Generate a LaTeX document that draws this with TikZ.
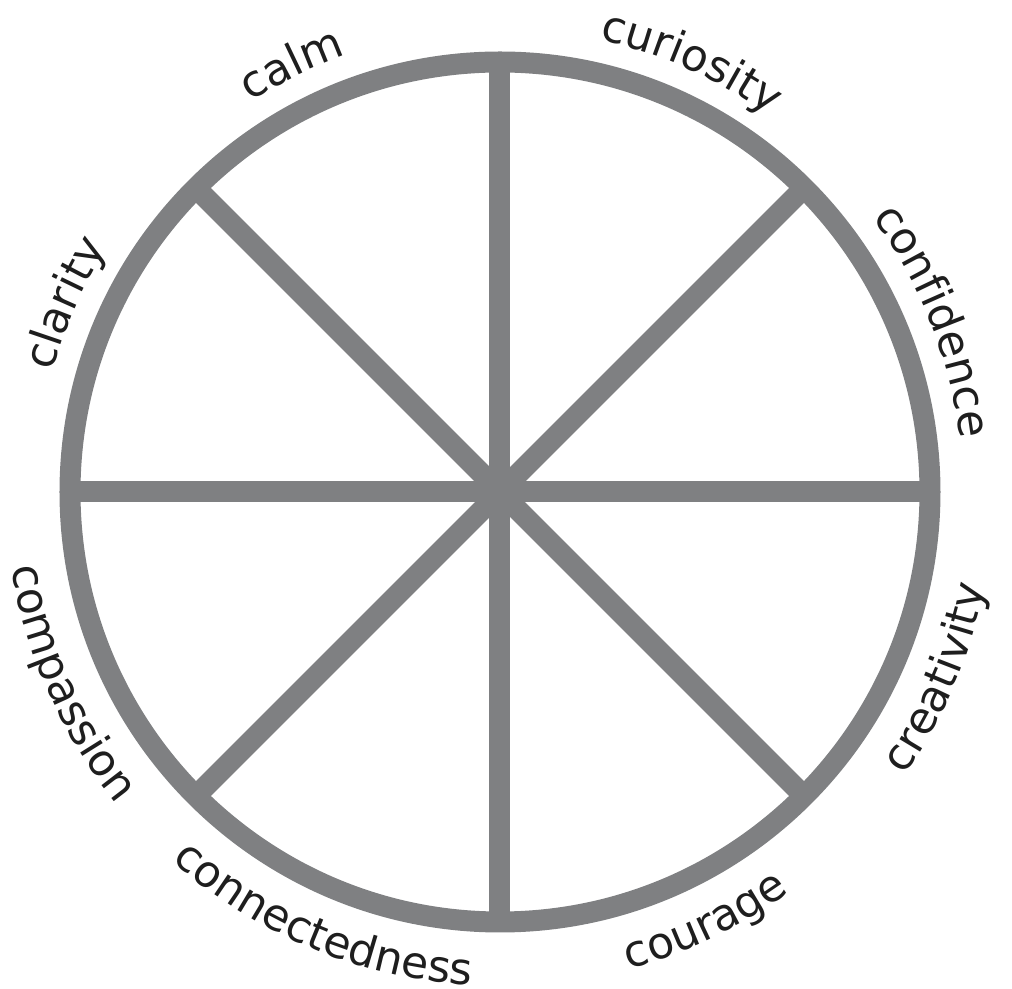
\documentclass[tikz,border=0pt]{standalone}
\usepackage{fontspec}
\setmainfont{DejaVu Sans}
\usetikzlibrary{decorations.text}
\definecolor{wheelgray}{RGB}{127,128,130}
\definecolor{inkblack}{RGB}{30,30,30}
\newcommand{\handfont}{\fontsize{22}{27}\selectfont\color{inkblack}}
\begin{document}
\begin{tikzpicture}[x=0.5pt,y=0.5pt,
  wheel/.style={draw=wheelgray,line width=10.5pt},
  toplabel/.style={decorate,decoration={text along path,text align=center,text={|\handfont|#1}}},
  bottomlabel/.style={decorate,decoration={text along path,text align=center,text={|\handfont|#1}}}]
\useasboundingbox (-500,-497) rectangle (512,492);
\coordinate (hub) at (0,0);
\draw[wheel] (hub) circle [radius=430];
\draw[wheel] (180:430)--(hub)--(0:430);
\draw[wheel] (90:430)--(hub)--(270:430);
\draw[wheel] (135:430)--(hub)--(315:430);
\draw[wheel] (45:430)--(hub)--(225:430);
% upper labels, read clockwise
\path[toplabel=calm] (156:463) arc [start angle=156,end angle=76,radius=463];
\path[toplabel=curiosity] (106:463) arc [start angle=106,end angle=26,radius=463];
\path[toplabel=confidence] (61.5:463) arc [start angle=61.5,end angle=-18.5,radius=463];
\path[toplabel=clarity] (196.5:463) arc [start angle=196.5,end angle=116.5,radius=463];
% lower labels, read counterclockwise
\path[bottomlabel=creativity] (-63:494) arc [start angle=-63,end angle=17,radius=494];
\path[bottomlabel=courage] (-104.5:494) arc [start angle=-104.5,end angle=-24.5,radius=494];
\path[bottomlabel=connectedness] (207.5:494) arc [start angle=207.5,end angle=287.5,radius=494];
\path[bottomlabel=compassion] (164:494) arc [start angle=164,end angle=244,radius=494];
\end{tikzpicture}
\end{document}
